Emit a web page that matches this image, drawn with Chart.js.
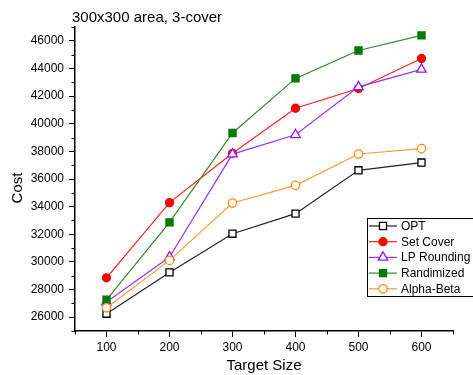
<!DOCTYPE html>
<html>
<head>
<meta charset="utf-8">
<script src="https://cdn.jsdelivr.net/npm/chart.js@4/dist/chart.umd.min.js"></script>
<style>
  html, body { margin: 0; padding: 0; background: #fff; }
  #wrap { width: 473px; height: 375px; position: relative; }
</style>
</head>
<body>
<div id="wrap"><canvas id="chart"></canvas></div>
<script>
// data
const targetSizes = [100, 200, 300, 400, 500, 600];
const optCost = [26250, 29240, 32040, 33490, 36630, 37190];
const setCoverCost = [28850, 34290, 37860, 41120, 42550, 44720];
const lpRoundingCost = [27100, 30350, 37800, 39200, 42670, 43930];
const randimizedCost = [27260, 32860, 39330, 43280, 45300, 46390];
const alphaBetaCost = [26680, 30110, 34260, 35540, 37810, 38200];
const yTickValues = [26000, 28000, 30000, 32000, 34000, 36000, 38000, 40000, 42000, 44000, 46000];
const xMinorTicks = [50, 150, 250, 350, 450, 550, 650];
const yMinorTicks = [25000, 27000, 29000, 31000, 33000, 35000, 37000, 39000, 41000, 43000, 45000, 47000];

const FONT = "'Liberation Sans', Arial, sans-serif";

function series(label, values, color, lineColor, style, filled, radius) {
  return {
    label: label,
    data: targetSizes.map((x, i) => ({ x: x, y: values[i] })),
    borderColor: lineColor,
    borderWidth: 1.2,
    pointStyle: style,
    pointRadius: radius,
    pointBorderColor: color,
    pointBackgroundColor: filled ? color : '#ffffff',
    pointBorderWidth: 1.3,
    tension: 0
  };
}

const datasets = [
  series('OPT', optCost, '#000000', '#222222', 'rect', false, 5),
  series('Set Cover', setCoverCost, '#ff0000', '#ff2020', 'circle', true, 4),
  series('LP Rounding', lpRoundingCost, '#8c1aff', '#9933ff', 'triangle', false, 5.5),
  series('Randimized', randimizedCost, '#007a00', '#2e8b2e', 'rect', true, 5),
  series('Alpha-Beta', alphaBetaCost, '#ff8c1a', '#ff9933', 'circle', false, 4.2)
];
// later series drawn on top
datasets.forEach((d, i) => { d.order = datasets.length - i; });

const extras = {
  id: 'extras',
  afterDraw(chart) {
    const ctx = chart.ctx;
    const xs = chart.scales.x, ys = chart.scales.y;
    ctx.save();
    // minor ticks
    ctx.strokeStyle = '#000';
    ctx.lineWidth = 1;
    ctx.beginPath();
    xMinorTicks.forEach(v => {
      const px = Math.round(xs.getPixelForValue(v)) + 0.5;
      ctx.moveTo(px, xs.top);
      ctx.lineTo(px, xs.top + 3.5);
    });
    yMinorTicks.forEach(v => {
      const py = Math.round(ys.getPixelForValue(v)) + 0.5;
      ctx.moveTo(ys.right, py);
      ctx.lineTo(ys.right - 3.5, py);
    });
    ctx.stroke();

    // title and axis titles
    ctx.fillStyle = '#000';
    ctx.font = '15px ' + FONT;
    ctx.textBaseline = 'middle';
    ctx.textAlign = 'left';
    ctx.fillText('300x300 area, 3-cover', 72, 18);
    ctx.textAlign = 'center';
    ctx.fillText('Target Size', 264, 366);
    ctx.save();
    ctx.translate(18, 188);
    ctx.rotate(-Math.PI / 2);
    ctx.fillText('Cost', 0, 0);
    ctx.restore();

    // legend box
    const lx = 367, ly = 218, lw = 108, lh = 78;
    ctx.lineWidth = 1;
    ctx.strokeStyle = '#000';
    ctx.fillStyle = '#fff';
    ctx.fillRect(lx, ly, lw, lh);
    ctx.strokeRect(lx + 0.5, ly + 0.5, lw, lh);
    ctx.font = '12px ' + FONT;
    ctx.textAlign = 'left';
    chart.data.datasets.forEach((d, i) => {
      const y = 226 + i * 15.7;
      ctx.strokeStyle = d.borderColor;
      ctx.lineWidth = 1.2;
      ctx.beginPath();
      ctx.moveTo(lx + 2, y);
      ctx.lineTo(lx + 30, y);
      ctx.stroke();
      ctx.strokeStyle = d.pointBorderColor;
      ctx.fillStyle = d.pointBackgroundColor;
      ctx.lineWidth = d.pointBorderWidth;
      Chart.helpers.drawPoint(ctx, {
        pointStyle: d.pointStyle, radius: d.pointRadius, rotation: 0, borderWidth: d.pointBorderWidth
      }, lx + 16, y);
      ctx.fillStyle = '#000';
      ctx.fillText(d.label, lx + 34, y + 0.5);
    });
    ctx.restore();
  }
};

new Chart(document.getElementById('chart'), {
  type: 'line',
  data: { datasets: datasets },
  options: {
    responsive: true,
    maintainAspectRatio: false,
    animation: false,
    devicePixelRatio: 1,
    layout: { padding: { left: 0, top: 27, right: 20, bottom: 0 } },
    plugins: { legend: { display: false }, title: { display: false }, tooltip: { enabled: false } },
    scales: {
      x: {
        type: 'linear',
        min: 50,
        max: 650,
        afterBuildTicks: s => { s.ticks = targetSizes.map(v => ({ value: v })); },
        afterFit: s => { s.height = 44; },
        grid: { drawOnChartArea: false, drawTicks: true, tickLength: 6, tickColor: '#000', tickWidth: 1 },
        border: { display: true, color: '#000', width: 1.5 },
        ticks: { color: '#000', font: { family: FONT, size: 12 }, padding: 3, maxRotation: 0 }
      },
      y: {
        type: 'linear',
        min: 25000,
        max: 47000,
        afterBuildTicks: s => { s.ticks = yTickValues.map(v => ({ value: v })); },
        afterFit: s => { s.width = 75; },
        grid: { drawOnChartArea: false, drawTicks: true, tickLength: 6, tickColor: '#000', tickWidth: 1 },
        border: { display: true, color: '#000', width: 1.5 },
        ticks: { color: '#000', font: { family: FONT, size: 12 }, padding: 5, callback: v => String(v) }
      }
    }
  },
  plugins: [extras]
});
</script>
</body>
</html>
